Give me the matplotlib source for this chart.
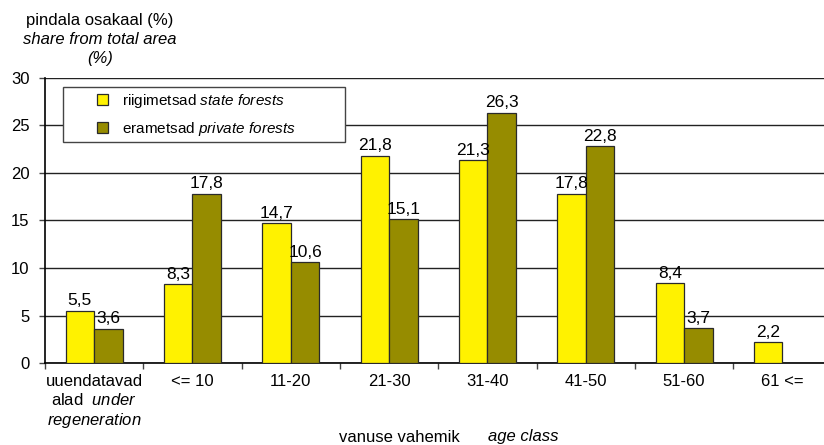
import numpy as np
import matplotlib.pyplot as plt
from matplotlib.patches import Rectangle

plt.rcParams.update({
    'font.family': 'Liberation Sans',
    'font.size': 12,
    'mathtext.fontset': 'custom',
    'mathtext.rm': 'Liberation Sans',
    'mathtext.it': 'Liberation Sans:italic',
})

# ----------------------------------------------------------------------------- data
categories = ['uuendatavad\nalad  $\\it{under}$\n$\\it{regeneration}$',
              '<= 10', '11-20', '21-30', '31-40', '41-50', '51-60', '61 <=']
state = [5.5, 8.3, 14.7, 21.8, 21.3, 17.8, 8.4, 2.2]
private = [3.6, 17.8, 10.6, 15.1, 26.3, 22.8, 3.7, None]

state_label = 'riigimetsad $\\it{state\\ forests}$'
private_label = 'erametsad $\\it{private\\ forests}$'

C_STATE = '#FFF200'
C_PRIV = '#968C00'
EDGE = '#2a2a2a'


def fmt(v):
    return f'{v:.1f}'.replace('.', ',')


fig = plt.figure(figsize=(8.24, 4.45), dpi=100)
ax = fig.add_axes([0.0546, 0.184, 0.9545, 0.6416])

x = np.arange(len(categories))
w = 0.29

for i, (s, p) in enumerate(zip(state, private)):
    ax.bar(x[i] - w / 2, s, w, color=C_STATE, edgecolor=EDGE, linewidth=0.9,
           label=state_label if i == 0 else None, zorder=3)
    ax.text(x[i] - w / 2, s + 0.25, fmt(s), ha='center', va='bottom', fontsize=12.5, zorder=4)
    if p is not None:
        ax.bar(x[i] + w / 2, p, w, color=C_PRIV, edgecolor=EDGE, linewidth=0.9,
               label=private_label if i == 0 else None, zorder=3)
        ax.text(x[i] + w / 2, p + 0.25, fmt(p), ha='center', va='bottom', fontsize=12.5, zorder=4)

ax.set_xlim(-0.5, len(categories) - 0.5)
ax.set_ylim(0, 30)
ax.set_yticks(np.arange(0, 31, 5))
ax.yaxis.grid(True, color='#222222', linewidth=1.0, zorder=0)
ax.set_axisbelow(True)

# ticks at category boundaries, labels at centres
ax.set_xticks(np.arange(-0.5, len(categories), 1.0))
ax.set_xticklabels([])
ax.set_xticks(x, minor=True)
ax.set_xticklabels(categories, minor=True)
ax.tick_params(axis='x', which='major', direction='out', length=4, width=1, color='#444444')
ax.tick_params(axis='x', which='minor', length=0, pad=8)
ax.tick_params(axis='y', direction='out', length=4, width=1, color='#444444', pad=7)

for side in ['top', 'right']:
    ax.spines[side].set_visible(False)
ax.spines['left'].set_linewidth(1.2)
ax.spines['bottom'].set_linewidth(1.2)

# legend: frame drawn separately so the box can be wider than its contents
ax.add_patch(Rectangle((0.0229, 0.774), 0.3586, 0.193, transform=ax.transAxes,
                       facecolor='white', edgecolor='#444444', linewidth=1.0, zorder=5))
leg = ax.legend(loc='center left', bbox_to_anchor=(0.066, 0.869), fontsize=11,
                frameon=False, handlelength=0.75, handleheight=0.75, handletextpad=0.9,
                labelspacing=0.65, borderpad=0, borderaxespad=0)
leg.set_zorder(6)

# y axis title above the axis
fig.text(100 / 824, 1 - 20 / 445, 'pindala osakaal (%)', ha='center', va='center')
fig.text(100 / 824, 1 - 39 / 445, 'share from total area', ha='center', va='center',
         style='italic')
fig.text(100 / 824, 1 - 58 / 445, '(%)', ha='center', va='center', style='italic')

# x axis title
fig.text(460 / 824, 1 - 437 / 445, 'vanuse vahemik', ha='right', va='center')
fig.text(488 / 824, 1 - 437 / 445, 'age class', ha='left', va='center', style='italic')

fig.savefig('out.png', dpi=100)
